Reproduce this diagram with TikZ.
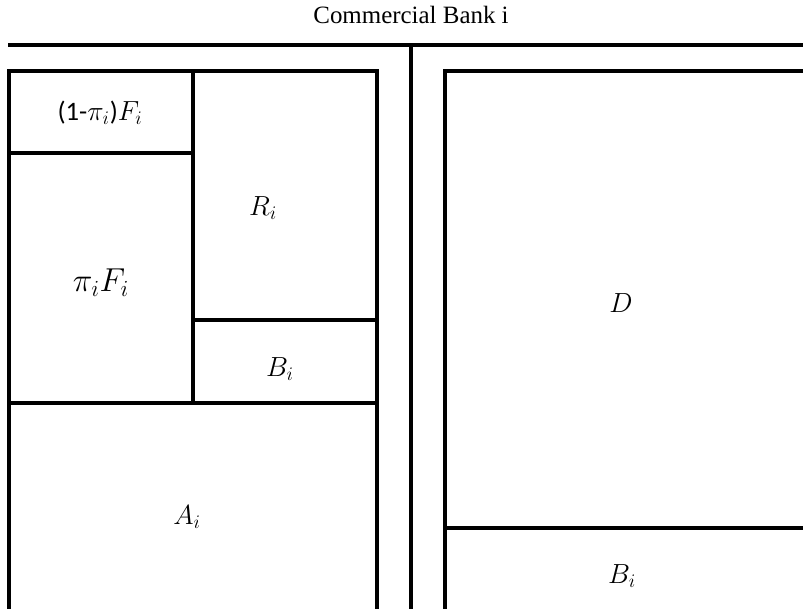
\documentclass[tikz,border=0pt]{standalone}
\usepackage{fontspec}
\setmainfont{Liberation Serif}
\newfontfamily\calib{Carlito}
\begin{document}
\begin{tikzpicture}[x=0.75pt,y=-0.75pt,
  wall/.style={line width=3.3pt,line cap=rect},
  lbl/.style={inner sep=0pt,font=\fontsize{20}{22}\selectfont},
  big/.style={inner sep=0pt,font=\fontsize{25}{28}\selectfont}]
\useasboundingbox (0,0) rectangle (803,608);
% title and top bar
\node[inner sep=0pt,font=\fontsize{18.7}{21}\selectfont] (title) at (411,15) {Commercial Bank i};
\draw[wall] (10,45) -- (803,45);
\draw[wall] (411,45) -- (411,610);
% left side (assets)
\draw[wall] (9,610) -- (9,71) -- (377,71) -- (377,610);
\draw[wall] (193,71) -- (193,403);
\draw[wall] (9,153) -- (193,153);
\draw[wall] (193,320) -- (377,320);
\draw[wall] (9,403) -- (377,403);
% right side (liabilities)
\draw[wall] (445,610) -- (445,71) -- (805,71);
\draw[wall] (445,528) -- (805,528);
% labels
\node[lbl] (f1) at (100,113) {{\calib (1-}$\pi_i${\calib )}$F_i$};
\node[big] (f2) at (101,283) {$\pi_iF_i$};
\node[lbl] (r) at (263,208) {$R_i$};
\node[lbl] (b1) at (280,369) {$B_i$};
\node[lbl] (a) at (187,517) {$A_i$};
\node[lbl] (d) at (621,303) {$D$};
\node[lbl] (b2) at (622,576) {$B_i$};
\end{tikzpicture}
\end{document}
